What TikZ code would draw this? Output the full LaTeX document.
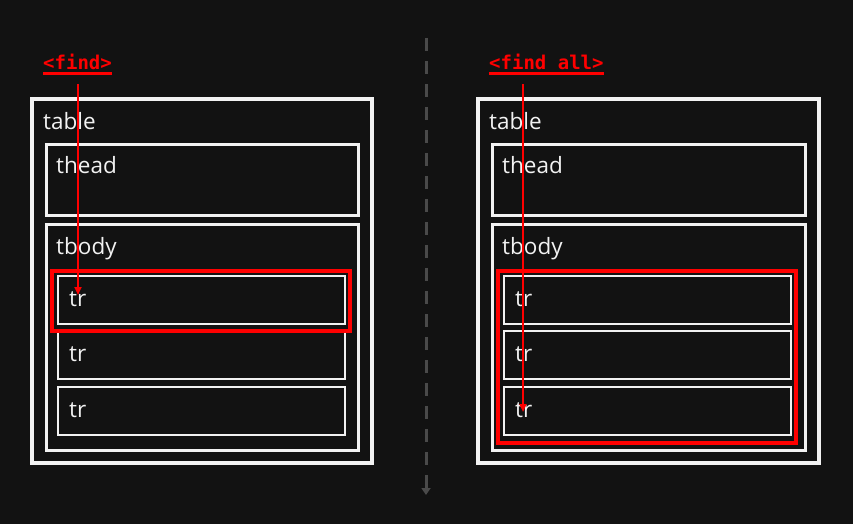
\documentclass[tikz,border=0pt]{standalone}
\usepackage{fontspec}
\setmainfont{Open Sans}
\newfontfamily\codefont{DejaVu Sans Mono}
\usetikzlibrary{arrows.meta}
\definecolor{bgc}{HTML}{121212}
\definecolor{boxw}{HTML}{F2F2F2}
\definecolor{hl}{HTML}{FF0000}
\definecolor{sep}{HTML}{4A4A4A}
\newcommand\redul[1]{\setbox0\hbox{#1}\rlap{\rule[-4.7pt]{\wd0}{2.4pt}}\box0}
\begin{document}
\begin{tikzpicture}[x=1pt,y=-1pt,
  box/.style={draw=boxw,anchor=north west,inner sep=0pt,outer sep=0pt},
  outerbox/.style={box,line width=3.5pt},
  midbox/.style={box,line width=3pt},
  rowbox/.style={box,line width=2pt},
  redbox/.style={draw=hl,anchor=north west,inner sep=0pt,outer sep=0pt,line width=3.5pt},
  lbl/.style={text=boxw,anchor=base west,inner sep=0pt,font=\fontsize{22.5}{26}\selectfont},
  codelbl/.style={text=hl,anchor=base west,inner sep=0pt,font=\codefont\bfseries\fontsize{19}{22}\selectfont},
  redarrow/.style={draw=hl,line width=2pt,-{Triangle[length=8pt,width=7pt]}},
  sepline/.style={draw=sep,line width=3pt,dash pattern=on 13pt off 10pt,-{Triangle[length=7pt,width=9pt]}}
]
\fill[bgc] (0,0) rectangle (853,524);
\useasboundingbox (0,0) rectangle (853,524);

% separator
\coordinate (septop) at (426,38);
\coordinate (sepbot) at (426,495);
\draw[sepline] (septop) -- (sepbot);

% ---------- left ----------
\node[outerbox,minimum width=340pt,minimum height=364pt] (Ltable) at (32,99) {};
\node[midbox,minimum width=312pt,minimum height=71pt] (Lthead) at (46,144) {};
\node[midbox,minimum width=312pt,minimum height=226pt] (Ltbody) at (46,224) {};
\node[rowbox,minimum width=287.5pt,minimum height=48pt] (Ltr1) at (57.5,276) {};
\node[rowbox,minimum width=287.5pt,minimum height=48pt] (Ltr2) at (57.5,331) {};
\node[rowbox,minimum width=287.5pt,minimum height=48pt] (Ltr3) at (57.5,387) {};
\node[redbox,minimum width=298pt,minimum height=60pt] (Lred) at (52,271) {};
\node[lbl] (Ltablet) at (43,129) {table};
\node[lbl] (Ltheadt) at (56,173) {thead};
\node[lbl] (Ltbodyt) at (56,254) {tbody};
\node[lbl] (Ltr1t) at (69,306) {tr};
\node[lbl] (Ltr2t) at (69,361) {tr};
\node[lbl] (Ltr3t) at (69,417) {tr};
\node[codelbl] (Lfind) at (43,70) {\redul{<find>}};
\coordinate (Lstart) at (78,84);
\coordinate (Lend) at (78,295);
\draw[redarrow] (Lstart) -- (Lend);

% ---------- right ----------
\node[outerbox,minimum width=341pt,minimum height=364pt] (Rtable) at (478,99) {};
\node[midbox,minimum width=313pt,minimum height=71pt] (Rthead) at (492,144) {};
\node[midbox,minimum width=313pt,minimum height=226pt] (Rtbody) at (492,224) {};
\node[rowbox,minimum width=287.5pt,minimum height=48pt] (Rtr1) at (503.5,276) {};
\node[rowbox,minimum width=287.5pt,minimum height=48pt] (Rtr2) at (503.5,331) {};
\node[rowbox,minimum width=287.5pt,minimum height=48pt] (Rtr3) at (503.5,387) {};
\node[redbox,minimum width=298pt,minimum height=172pt] (Rred) at (498,271) {};
\node[lbl] (Rtablet) at (489,129) {table};
\node[lbl] (Rtheadt) at (502,173) {thead};
\node[lbl] (Rtbodyt) at (502,254) {tbody};
\node[lbl] (Rtr1t) at (515,306) {tr};
\node[lbl] (Rtr2t) at (515,361) {tr};
\node[lbl] (Rtr3t) at (515,417) {tr};
\node[codelbl] (Rfind) at (489,70) {\redul{<find all>}};
\coordinate (Rstart) at (523,84);
\coordinate (Rend) at (523,412);
\draw[redarrow] (Rstart) -- (Rend);
\end{tikzpicture}
\end{document}
